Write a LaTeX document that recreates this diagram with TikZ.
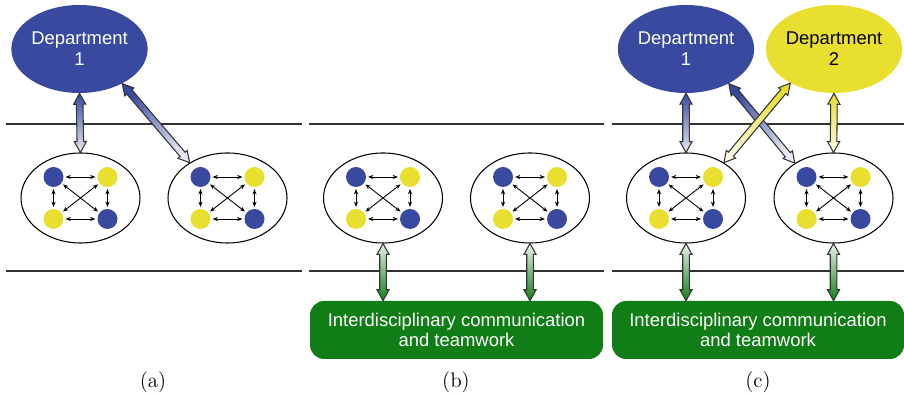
\documentclass[tikz,border=0pt]{standalone}
\usepackage{fontspec}
\newfontfamily\labelfont{Liberation Sans}
\usetikzlibrary{calc,shapes.geometric,shapes.arrows,arrows.meta}
\definecolor{deptblue}{RGB}{57,73,160}
\definecolor{deptyellow}{RGB}{232,223,47}
\definecolor{teamgreen}{RGB}{16,125,22}
\tikzset{
  dept/.style={ellipse, minimum width=2.34cm, minimum height=1.76cm, inner sep=0pt,
    align=center, font=\labelfont\fontsize{10.5}{12}\selectfont},
  team/.style={ellipse, draw, line width=0.6pt, minimum width=2.38cm, minimum height=1.8cm},
  member/.style={circle, minimum size=0.4cm, inner sep=0pt},
  talk/.style={line width=0.5pt, {Stealth[length=3pt,width=2.4pt]}-{Stealth[length=3pt,width=2.4pt]},
    shorten <=1pt, shorten >=1pt},
  level/.style={line width=0.6pt, black!80},
  fatarrow/.style={double arrow, draw=black!80, line width=0.6pt, minimum width=0pt,
    inner xsep=0pt, inner ysep=0.055cm,
    double arrow head extend=0.055cm, double arrow tip angle=58},
  bluelink/.style={left color=deptblue!12, right color=deptblue},
  yellowlink/.style={left color=deptyellow!15, right color=deptyellow},
  greenlink/.style={left color=teamgreen!10, right color=teamgreen},
  groupbox/.style={rectangle, rounded corners=8pt, fill=teamgreen, text=white,
    minimum width=5.86cm, minimum height=1.16cm, align=center,
    font=\labelfont\fontsize{10.5}{11.5}\selectfont},
  panel/.style={font=\large}
}
% fat double arrow between two named points
\newcommand\fatlink[3]{%
  \path let \p1=(#2), \p2=(#3), \n1={atan2(\y2-\y1,\x2-\x1)},
    \n2={veclen(\x2-\x1,\y2-\y1)} in
    node[fatarrow, #1, shading angle=\n1+90, rotate=\n1, minimum height=\n2]
      at ($(\p1)!0.5!(\p2)$) {};}
% one team: ellipse with two blue and two yellow members
\newcommand\teamunit[2]{%
  \node[team] (#1) at (#2) {};
  \node[member, fill=deptblue] (#1a) at ($(#1)+(-0.54,0.42)$) {};
  \node[member, fill=deptyellow] (#1b) at ($(#1)+(0.54,0.42)$) {};
  \node[member, fill=deptyellow] (#1c) at ($(#1)+(-0.54,-0.42)$) {};
  \node[member, fill=deptblue] (#1d) at ($(#1)+(0.54,-0.42)$) {};
  \draw[talk] (#1a) -- (#1b);
  \draw[talk] (#1c) -- (#1d);
  \draw[talk] (#1a) -- (#1c);
  \draw[talk] (#1b) -- (#1d);
  \draw[talk] (#1a) -- (#1d);
  \draw[talk] (#1b) -- (#1c);}
\begin{document}
\begin{tikzpicture}
  \useasboundingbox (0,0) rectangle (18.08,7.92);

  % levels
  \draw[level] (0.12,5.44) -- (6.04,5.44);
  \draw[level] (0.12,2.5) -- (6.04,2.5);
  \draw[level] (6.18,5.44) -- (12.08,5.44);
  \draw[level] (6.18,2.5) -- (12.08,2.5);
  \draw[level] (12.24,5.44) -- (18.08,5.44);
  \draw[level] (12.24,2.5) -- (18.08,2.5);

  % (a)
  \node[dept, fill=deptblue, text=white] (depA) at (1.59,6.94) {Department\\1};
  \teamunit{tA1}{1.61,3.96}
  \teamunit{tA2}{4.55,3.96}
  \fatlink{bluelink}{tA1.north}{depA.south}
  \fatlink{bluelink}{tA2.137}{depA.-39}

  % (b)
  \teamunit{tB1}{7.66,3.96}
  \teamunit{tB2}{10.6,3.96}
  \node[groupbox] (grpB) at (9.13,1.32) {Interdisciplinary communication\\and teamwork};
  \coordinate (gB1) at (tB1.south |- grpB.north);
  \coordinate (gB2) at (tB2.south |- grpB.north);
  \fatlink{greenlink}{tB1.south}{gB1}
  \fatlink{greenlink}{tB2.south}{gB2}

  % (c)
  \node[dept, fill=deptblue, text=white] (depC1) at (13.72,6.94) {Department\\1};
  \node[dept, fill=deptyellow, text=black] (depC2) at (16.68,6.94) {Department\\2};
  \teamunit{tC1}{13.72,3.96}
  \teamunit{tC2}{16.67,3.96}
  \node[groupbox, minimum width=5.84cm] (grpC) at (15.16,1.32) {Interdisciplinary communication\\and teamwork};
  \coordinate (gC1) at (tC1.south |- grpC.north);
  \coordinate (gC2) at (tC2.south |- grpC.north);
  \fatlink{bluelink}{tC1.north}{depC1.south}
  \fatlink{bluelink}{tC2.138}{depC1.-39}
  \fatlink{yellowlink}{tC1.43}{depC2.218}
  \fatlink{yellowlink}{tC2.north}{depC2.south}
  \fatlink{greenlink}{tC1.south}{gC1}
  \fatlink{greenlink}{tC2.south}{gC2}

  % captions
  \node[panel] (capA) at (3.06,0.28) {(a)};
  \node[panel] (capB) at (9.12,0.28) {(b)};
  \node[panel] (capC) at (15.16,0.28) {(c)};
\end{tikzpicture}
\end{document}
